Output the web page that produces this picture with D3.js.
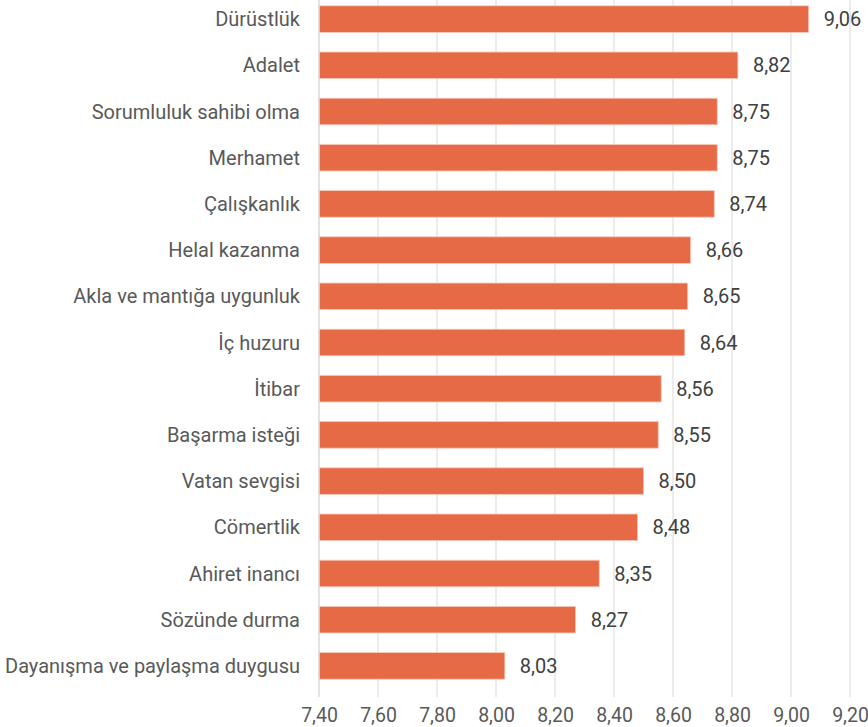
<!DOCTYPE html>
<html lang="tr">
<head>
<meta charset="utf-8">
<title>değerler</title>
<script src="https://cdn.jsdelivr.net/npm/d3@7"></script>
<style>
  body { margin: 0; background: #fff; }
  text { font-family: Roboto, "Noto Sans", sans-serif; }
</style>
</head>
<body>
<script>
// categories and values, top to bottom
var categories = ["Dürüstlük", "Adalet", "Sorumluluk sahibi olma", "Merhamet", "Çalışkanlık",
  "Helal kazanma", "Akla ve mantığa uygunluk", "İç huzuru", "İtibar", "Başarma isteği",
  "Vatan sevgisi", "Cömertlik", "Ahiret inancı", "Sözünde durma", "Dayanışma ve paylaşma duygusu"];
var values = [9.06, 8.82, 8.75, 8.75, 8.74, 8.66, 8.65, 8.64, 8.56, 8.55, 8.50, 8.48, 8.35, 8.27, 8.03];
var xTicks = [7.4, 7.6, 7.8, 8.0, 8.2, 8.4, 8.6, 8.8, 9.0, 9.2];

var w = 868, h = 727;
// plot edges (note: "top" is taken by window.top)
var plotLeft = 319, plotRight = 850, plotTop = -4, plotBottom = 689;

var data = categories.map(function(c, i) { return {name: c, value: values[i]}; });

var tr = d3.formatLocale({decimal: ",", thousands: ".", grouping: [3], currency: ["", " TL"]});
var fmt = tr.format(".2f");

var xScale = d3.scaleLinear().domain([7.4, 9.2]).range([plotLeft, plotRight]);
var yScale = d3.scaleBand().domain(categories).range([plotTop, plotBottom]).paddingInner(0.425).paddingOuter(0.2125);

var svg = d3.select("body").append("svg").attr("width", w).attr("height", h);

// gridlines + ticks below axis
svg.append("g").selectAll("line")
  .data(xTicks.slice(1))
  .enter().append("line")
  .attr("x1", function(d) { return xScale(d); })
  .attr("x2", function(d) { return xScale(d); })
  .attr("y1", 0)
  .attr("y2", plotBottom + 8)
  .attr("stroke", "#d9d9d9")
  .attr("stroke-width", 1);

// x axis labels
var xAxis = d3.axisBottom(xScale).tickValues(xTicks).tickFormat(fmt).tickSize(0).tickPadding(19);
var gx = svg.append("g")
  .attr("transform", "translate(0," + plotBottom + ")")
  .call(xAxis);
gx.select(".domain").remove();
gx.selectAll("text").attr("fill", "#595959").style("font-size", "19.5px").style("font-family", "Roboto, sans-serif");

// bars
svg.append("g").selectAll("rect")
  .data(data)
  .enter().append("rect")
  .attr("x", xScale(7.4))
  .attr("y", function(d) { return yScale(d.name); })
  .attr("width", function(d) { return xScale(d.value) - xScale(7.4); })
  .attr("height", yScale.bandwidth())
  .attr("fill", "#e76a47")
  .attr("stroke", "#f7c9bb")
  .attr("stroke-width", 0.8);

// vertical axis line
svg.append("line")
  .attr("x1", plotLeft).attr("x2", plotLeft)
  .attr("y1", 0).attr("y2", plotBottom + 8)
  .attr("stroke", "#d9d9d9")
  .attr("stroke-width", 1.5);

// category labels
svg.append("g").selectAll("text")
  .data(data)
  .enter().append("text")
  .attr("x", plotLeft - 19)
  .attr("y", function(d) { return yScale(d.name) + yScale.bandwidth() / 2; })
  .attr("dy", "0.35em")
  .attr("text-anchor", "end")
  .attr("fill", "#595959")
  .style("font-size", "20px")
  .text(function(d) { return d.name; });

// value labels
svg.append("g").selectAll("text")
  .data(data)
  .enter().append("text")
  .attr("x", function(d) { return xScale(d.value) + 15; })
  .attr("y", function(d) { return yScale(d.name) + yScale.bandwidth() / 2; })
  .attr("dy", "0.35em")
  .attr("fill", "#404040")
  .style("font-size", "20px")
  .text(function(d) { return fmt(d.value); });
</script>
</body>
</html>
